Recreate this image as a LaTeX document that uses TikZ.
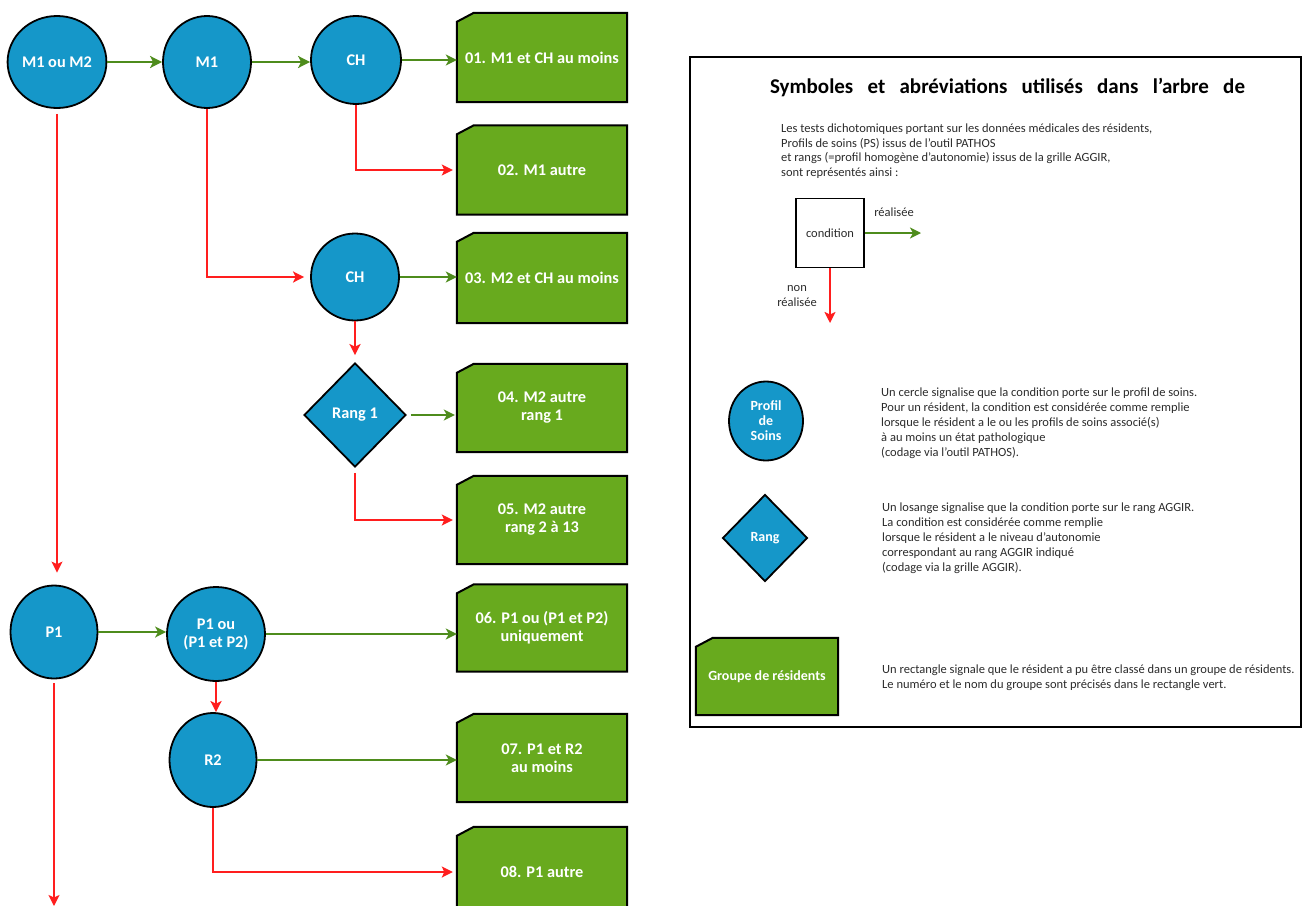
\documentclass[tikz,border=0pt]{standalone}
\usepackage{fontspec}
\setmainfont{Carlito}
\usetikzlibrary{shapes.geometric,arrows.meta,backgrounds}

\definecolor{pblue}{HTML}{1597C9}
\definecolor{pgreen}{HTML}{68AA1E}
\definecolor{agreen}{HTML}{4E8C1C}
\definecolor{ared}{HTML}{FF1E1E}
\definecolor{ink}{HTML}{2B2B2B}

\tikzset{
  lbl/.style={text=white, font=\bfseries\fontsize{16.3}{18}\selectfont, align=center, inner sep=0pt},
  pc/.style={ellipse, draw=black, line width=1.8pt, fill=pblue, lbl},
  rg/.style={diamond, aspect=1, draw=black, line width=1.8pt, fill=pblue, lbl},
  grp/.style={rectangle, lbl, minimum width=170pt, minimum height=89pt},
  grpshape/.style={fill=pgreen, draw=black, line width=2pt, line join=miter},
  yes/.style={draw=agreen, line width=1.8pt, -{Stealth[length=11pt,width=11pt,inset=3pt]}},
  yesbold/.style={yes, line width=2.8pt, -{Stealth[length=12pt,width=12pt,inset=3pt]}},
  no/.style={draw=ared, line width=2.1pt, -{Stealth[length=11pt,width=11pt,inset=2.5pt]}},
  nothin/.style={no, line width=1.4pt},
  body/.style={text=ink, font=\fontsize{12.5}{14.8}\selectfont, align=left, inner sep=0pt},
}

\begin{document}
\begin{tikzpicture}[x=1pt, y=-1pt]
\useasboundingbox (0,0) rectangle (1303,905);

% ---------- decision tree: conditions ----------
\node[pc, minimum width=89pt, minimum height=92pt] (m12) at (57,62) {M1 ou M2};
\node[pc, minimum width=88pt, minimum height=92pt] (m1) at (207,62) {M1};
\node[pc, minimum width=90pt, minimum height=88pt] (ch1) at (356,60) {CH};
\node[pc, minimum width=88pt, minimum height=87pt] (ch2) at (355,277) {CH};
\node[rg, minimum width=102pt, minimum height=104pt] (r1) at (355,415) {Rang 1};
\node[pc, minimum width=87pt, minimum height=93pt] (p1) at (54,632) {P1};
\node[pc, minimum width=98pt, minimum height=94pt] (p12) at (216,634) {P1 ou\\(P1 et P2)};
\node[pc, minimum width=87pt, minimum height=94pt] (r2) at (213,760) {R2};

% ---------- decision tree: resident groups ----------
\node[grp] (g01) at (542,57.5) {01. M1 et CH au moins};
\node[grp] (g02) at (542,170) {02. M1 autre};
\node[grp, minimum height=90pt] (g03) at (542,278) {03. M2 et CH au moins};
\node[grp, minimum height=88pt] (g04) at (542,408) {04. M2 autre\\rang 1};
\node[grp, minimum height=88pt] (g05) at (542,520) {05. M2 autre\\rang 2 à 13};
\node[grp, minimum height=87pt] (g06) at (542,628) {06. P1 ou (P1 et P2)\\uniquement};
\node[grp, minimum height=88pt] (g07) at (542,758) {07. P1 et R2\\au moins};
\node[grp, minimum height=90pt] (g08) at (542,872) {08. P1 autre};

% ---------- legend ----------
\draw[black, line width=1.5pt] (690,57) rectangle (1301,727);
\node[font=\bfseries\fontsize{21}{24}\selectfont, inner sep=0pt] (title) at (1007.5,88)
  {\makebox[475pt][s]{Symboles et abréviations utilisés dans l’arbre de}};

\node[body, anchor=north west] (intro) at (781,123.5)
  {Les tests dichotomiques portant sur les données médicales des résidents,\\
   Profils de soins (PS) issus de l’outil PATHOS\\
   et rangs (=profil homogène d’autonomie) issus de la grille AGGIR,\\
   sont représentés ainsi :};

\node[draw=black, line width=1.5pt, fill=white, minimum width=68pt, minimum height=69pt,
      text=ink, font=\fontsize{12.5}{15}\selectfont] (cond) at (830,233) {condition};
\coordinate (condyes) at (921,233);
\coordinate (condno) at (830,323);
\draw[yes] (cond.east) -- (cond.east -| condyes);
\draw[no] (cond.south) -- (condno);
\node[body] (lyes) at (894,212) {réalisée};
\node[body, align=center] (lno) at (797,296) {non\\réalisée};

\node[pc, minimum width=74pt, minimum height=79pt, font=\bfseries\fontsize{14}{15}\selectfont] (lcirc) at (766,421) {Profil\\de\\Soins};
\node[body, anchor=north west] (tcirc) at (881,388)
  {Un cercle signalise que la condition porte sur le profil de soins.\\
   Pour un résident, la condition est considérée comme remplie\\
   lorsque le résident a le ou les profils de soins associé(s)\\
   à au moins un état pathologique\\
   (codage via l’outil PATHOS).};

\node[rg, minimum width=85pt, minimum height=87pt, font=\bfseries\fontsize{14}{15}\selectfont] (ldia) at (765,538) {Rang};
\node[body, anchor=north west] (tdia) at (882,503)
  {Un losange signalise que la condition porte sur le rang AGGIR.\\
   La condition est considérée comme remplie\\
   lorsque le résident a le niveau d’autonomie\\
   correspondant au rang AGGIR indiqué\\
   (codage via la grille AGGIR).};

\node[grp, minimum width=142pt, minimum height=77pt, font=\bfseries\fontsize{14}{15}\selectfont] (lgrp) at (767,676.5) {Groupe de résidents};
\node[body, anchor=north west] (tgrp) at (882,665)
  {Un rectangle signale que le résident a pu être classé dans un groupe de résidents.\\
   Le numéro et le nom du groupe sont précisés dans le rectangle vert.};

% green group boxes with their clipped corner
\begin{scope}[on background layer]
\foreach \n in {g01,g02,g03,g04,g05,g06,g07,g08,lgrp}
  \filldraw[grpshape] ([xshift=17pt]\n.north west) -- (\n.north east) -- (\n.south east)
    -- (\n.south west) -- ([yshift=-9pt]\n.north west) -- cycle;
\end{scope}

% ---------- connectors: condition fulfilled ----------
\draw[yesbold] (m12.east) -- (m12.east -| m1.west);
\draw[yesbold] (m1.east) -- (m1.east -| ch1.west);
\draw[yes] (ch1.east) -- (ch1.east -| g01.west);
\draw[yes] (ch2.east) -- (ch2.east -| g03.west);
\draw[yes, shorten <=4pt, shorten >=2pt] (r1.east) -- (r1.east -| g04.west);
\draw[yes, line width=2.2pt] (p1.east) -- (p1.east -| p12.west);
\draw[yes, line width=2.2pt] (p12.east) -- (p12.east -| g06.west);
\draw[yes] (r2.east) -- (r2.east -| g07.west);

% ---------- connectors: condition not fulfilled ----------
\draw[no, shorten >=4pt] (ch1.south) |- (g02.west);
\draw[no, shorten >=6pt] (m1.south) |- (ch2.west);
\draw[no, shorten >=7pt] (ch2.south) -- (r1.north);
\draw[no, shorten <=5pt, shorten >=4pt] (r1.south) |- (g05.west);
\draw[nothin, shorten <=5pt, shorten >=12pt] (m12.south) -- (m12.south |- p1.north);
\draw[no] (p12.south) -- (p12.south |- r2.north);
\draw[no, shorten >=4pt] (r2.south) |- (g08.west);
\coordinate (p1end) at (51,906);
\draw[nothin, line width=1.8pt, shorten <=4pt] (p1.south) -- (p1.south |- p1end);
\end{tikzpicture}
\end{document}
